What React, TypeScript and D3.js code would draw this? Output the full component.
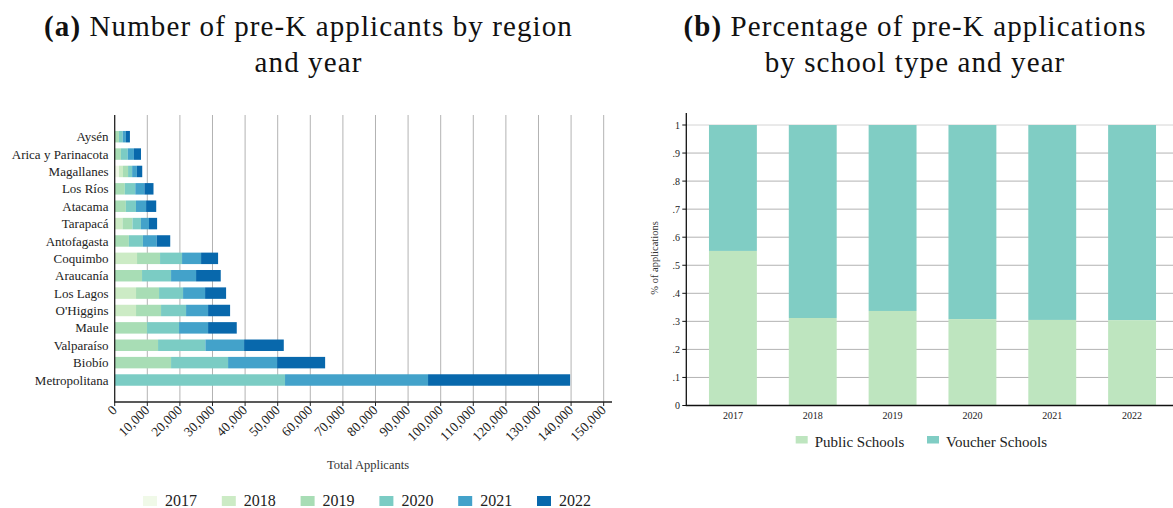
import React from "react";
import * as d3 from "d3";

const regions = ["Aysén","Arica y Parinacota","Magallanes","Los Ríos","Atacama","Tarapacá","Antofagasta","Coquimbo","Araucanía","Los Lagos","O'Higgins","Maule","Valparaíso","Biobío","Metropolitana"];
const years = ["2017","2018","2019","2020","2021","2022"];
const v2017 = [0,0,1300,0,0,0,0,0,0,0,0,0,0,0,0];
const v2018 = [0,0,1250,0,0,2400,0,6854,0,6547,6547,0,0,0,0];
const v2019 = [1300,1900,1550,3105,3420,3050,4350,7059,8389,7059,7673,9923,13299,17289,0];
const v2020 = [1150,2100,1250,3208,3105,2588,4300,6752,8900,7366,7673,9821,14527,17493,52250];
const v2021 = [980,1900,1450,2794,3105,2484,4244,5831,7673,6752,6752,8900,11867,15038,43870];
const v2022 = [1240,2170,1650,2794,3105,2484,4140,5217,7570,6445,6752,8798,12174,14731,43580];
const yearValues = [v2017, v2018, v2019, v2020, v2021, v2022];
const yearColors = ["#f0f9e8","#ccebc5","#a8ddb5","#7bccc4","#43a2ca","#0868ac"];
const xTicks = d3.range(0, 150001, 10000);

const schoolYears = ["2017","2018","2019","2020","2021","2022"];
const publicShare = [0.551, 0.312, 0.337, 0.308, 0.305, 0.304];
const schoolTypes = ["Public Schools","Voucher Schools"];
const schoolColors = ["#bee5bf","#80cdc4"];
const yTicks = d3.range(0, 11).map(i => i / 10);

const FONT = "'Liberation Serif', 'DejaVu Serif', serif";

export default function App() {
  const xL = d3.scaleLinear().domain([0, 152550]).range([114.7, 612]);
  const yL = d3.scaleBand().domain(regions).range([128, 388.7]).paddingInner(0.34).paddingOuter(0.17);
  const axisBottomL = 402;
  const plotTopL = 115;
  const stackData = regions.map((r, i) => {
    const o: any = { region: r };
    years.forEach((y, k) => (o[y] = yearValues[k][i]));
    return o;
  });
  const stacked = d3.stack().keys(years)(stackData);

  const xR = d3.scaleBand().domain(schoolYears).range([693, 1172]).paddingInner(0.4).paddingOuter(0.2);
  const yR = d3.scaleLinear().domain([0, 1]).range([405.5, 125]);
  const axisLeftR = 686.3;
  const axisRightR = 1173;
  const topR = 113;

  const titleStyle = { letterSpacing: "1.1px" };

  return (
    <svg width={1173} height={508} style={{ position: "absolute", left: 0, top: 0, fontFamily: FONT }}>
      <rect x={0} y={0} width={1173} height={508} fill="#fff" />
      <text x={308.5} y={36} textAnchor="middle" fontSize={29} fill="#111" style={titleStyle}>
        <tspan fontWeight="bold">(a)</tspan> Number of pre-K applicants by region
      </text>
      <text x={308.5} y={72} textAnchor="middle" fontSize={29} fill="#111" style={titleStyle}>and year</text>
      <text x={915} y={36} textAnchor="middle" fontSize={29} fill="#111" style={titleStyle}>
        <tspan fontWeight="bold">(b)</tspan> Percentage of pre-K applications
      </text>
      <text x={915} y={72} textAnchor="middle" fontSize={29} fill="#111" style={titleStyle}>by school type and year</text>

      {xTicks.slice(1).map(t => (
        <line key={"g" + t} x1={xL(t)} x2={xL(t)} y1={plotTopL} y2={axisBottomL} stroke="#b3b3b3" strokeWidth={1} />
      ))}
      {stacked.map((s, k) => (
        <g key={"s" + k}>
          {s.map((d, i) => {
            const w = xL(d[1]) - xL(d[0]);
            if (w <= 0) return null;
            return (
              <rect key={i} x={xL(d[0])} y={yL(regions[i])!} width={w} height={yL.bandwidth()} fill={yearColors[k]} />
            );
          })}
        </g>
      ))}
      <line x1={xL(0)} x2={xL(0)} y1={plotTopL} y2={axisBottomL + 0.5} stroke="#222" strokeWidth={1.3} />
      <line x1={xL(0) - 0.5} x2={612} y1={axisBottomL} y2={axisBottomL} stroke="#222" strokeWidth={1.3} />
      {xTicks.map(t => (
        <g key={"t" + t}>
          <line x1={xL(t)} x2={xL(t)} y1={axisBottomL} y2={axisBottomL + 4} stroke="#222" strokeWidth={1} />
          <text transform={`translate(${xL(t) + 3},${axisBottomL + 9}) rotate(-45)`} textAnchor="end" fontSize={13.5} fill="#222">
            {d3.format(",")(t)}
          </text>
        </g>
      ))}
      {regions.map(r => (
        <text key={r} x={108.5} y={yL(r)! + yL.bandwidth() / 2} dy="0.35em" textAnchor="end" fontSize={13} fill="#222">{r}</text>
      ))}
      <text x={368} y={469} textAnchor="middle" fontSize={12.5} fill="#333">Total Applicants</text>
      {years.map((y, k) => (
        <g key={"l" + y} transform={`translate(${143 + k * 78.8},0)`}>
          <rect x={0} y={496} width={14} height={10} fill={yearColors[k]} />
          <text x={22} y={506} fontSize={16} fill="#222">{y}</text>
        </g>
      ))}

      {yTicks.map(t => (
        <line key={"rg" + t} x1={axisLeftR} x2={axisRightR} y1={yR(t)} y2={yR(t)} stroke={t === 1 ? "#d4d4d4" : "#b3b3b3"} strokeWidth={1} />
      ))}
      {schoolYears.map((y, i) => (
        <g key={"b" + y}>
          <rect x={xR(y)!} y={yR(1)} width={xR.bandwidth()} height={yR(publicShare[i]) - yR(1)} fill={schoolColors[1]} />
          <rect x={xR(y)!} y={yR(publicShare[i])} width={xR.bandwidth()} height={yR(0) - yR(publicShare[i])} fill={schoolColors[0]} />
          <text x={xR(y)! + xR.bandwidth() / 2} y={419} textAnchor="middle" fontSize={10} fill="#222">{y}</text>
        </g>
      ))}
      <line x1={axisLeftR} x2={axisLeftR} y1={topR} y2={yR(0) + 0.5} stroke="#111" strokeWidth={1.3} />
      <line x1={axisLeftR - 0.5} x2={axisRightR} y1={yR(0)} y2={yR(0)} stroke="#111" strokeWidth={1.3} />
      {yTicks.map(t => (
        <g key={"ry" + t}>
          <line x1={axisLeftR - 4} x2={axisLeftR} y1={yR(t)} y2={yR(t)} stroke="#111" strokeWidth={1} />
          <text x={680} y={yR(t)} dy="0.35em" textAnchor="end" fontSize={10} fill="#222">
            {t === 0 ? "0" : t === 1 ? "1" : d3.format(".1f")(t).replace(/^0/, "")}
          </text>
        </g>
      ))}
      <text transform={`translate(658,258) rotate(-90)`} textAnchor="middle" fontSize={10.5} fill="#333">% of applications</text>
      {schoolTypes.map((s, k) => (
        <g key={"rl" + s} transform={`translate(${795.7 + k * 131.3},0)`}>
          <rect x={0} y={436} width={12} height={7.5} fill={schoolColors[k]} />
          <text x={19} y={447} fontSize={15} fill="#222">{s}</text>
        </g>
      ))}
    </svg>
  );
}
